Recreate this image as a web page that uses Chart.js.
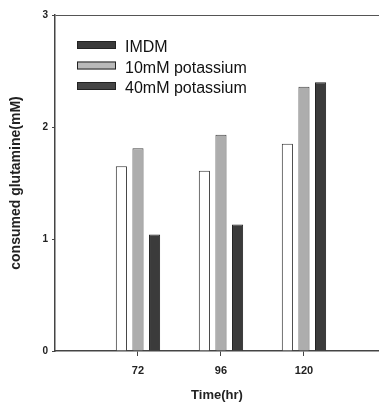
<!DOCTYPE html>
<html>
<head>
<meta charset="utf-8">
<script src="https://cdn.jsdelivr.net/npm/chart.js@4"></script>
<style>
  html, body { margin: 0; padding: 0; background: #fff; }
  #wrap { width: 379px; height: 404px; }
</style>
</head>
<body>
<div id="wrap"><canvas id="chart" width="379" height="404"></canvas></div>
<script>
// values
const times = [72, 96, 120];
const imdm = [1.65, 1.61, 1.85];
const k10 = [1.81, 1.93, 2.36];
const k40 = [1.04, 1.13, 2.40];
const seriesNames = ["IMDM", "10mM potassium", "40mM potassium"];
const yTicks = [0, 1, 2, 3];

const font = "'Liberation Sans', Arial, sans-serif";

const toPoints = vals => vals.map((v, i) => ({ x: times[i], y: v }));

// legend drawn inside the plot, like the original
const insideLegend = {
  id: "insideLegend",
  afterDraw(chart) {
    const ctx = chart.ctx;
    const swatch = ["#3a3a3a", "#b9b9b9", "#454545"];
    ctx.save();
    chart.data.datasets.forEach((ds, i) => {
      const y = 45 + i * 20.5;
      ctx.fillStyle = swatch[i];
      ctx.fillRect(77, y - 4, 39, 8);
      ctx.strokeStyle = "#222";
      ctx.lineWidth = 1;
      ctx.strokeRect(77.5, y - 3.5, 38, 7);
      ctx.fillStyle = "#111";
      ctx.font = "16px " + font;
      ctx.textBaseline = "middle";
      ctx.fillText(ds.label, 125, y + 3);
    });
    ctx.restore();
  }
};

new Chart(document.getElementById("chart"), {
  type: "bar",
  data: {
    datasets: [
      { label: seriesNames[0], data: toPoints(imdm), backgroundColor: "#ffffff", borderColor: "#333", borderWidth: 1 },
      { label: seriesNames[1], data: toPoints(k10), backgroundColor: "#adadad", borderColor: "#444", borderWidth: 1 },
      { label: seriesNames[2], data: toPoints(k40), backgroundColor: "#3b3b3b", borderColor: "#222", borderWidth: 1 }
    ]
  },
  options: {
    responsive: false,
    animation: false,
    categoryPercentage: 0.6,
    barPercentage: 0.67,
    layout: { padding: { top: 15, right: 0, bottom: 0, left: 0 } },
    plugins: { legend: { display: false }, tooltip: { enabled: false } },
    scales: {
      x: {
        type: "linear",
        offset: false,
        min: 48,
        max: 141.7,
        afterBuildTicks: s => { s.ticks = times.map(v => ({ value: v })); },
        afterFit: s => { s.height = 53; },
        border: { display: true, color: "#444", width: 1.5 },
        grid: { display: true, offset: false, drawOnChartArea: false, tickLength: 5, tickColor: "#444" },
        ticks: { color: "#222", font: { family: font, size: 11, weight: "bold" }, padding: 8, maxRotation: 0 },
        title: { display: true, text: "Time(hr)", color: "#222", font: { family: font, size: 13, weight: "bold" }, padding: { top: 6, bottom: 1 } }
      },
      y: {
        min: 0,
        max: 3,
        afterBuildTicks: s => { s.ticks = yTicks.map(v => ({ value: v })); },
        afterFit: s => { s.width = 55; },
        border: { display: true, color: "#444", width: 1.5 },
        grid: {
          drawOnChartArea: true,
          color: c => (c.tick && c.tick.value === 3 ? "#555" : "rgba(0,0,0,0)"),
          tickColor: "#444",
          tickLength: 3
        },
        ticks: { color: "#222", font: { family: font, size: 10, weight: "bold" }, padding: 4 },
        title: { display: true, text: "consumed glutamine(mM)", color: "#222", font: { family: font, size: 14, weight: "bold" }, padding: { top: 8, bottom: 0 } }
      }
    }
  },
  plugins: [insideLegend]
});
</script>
</body>
</html>
